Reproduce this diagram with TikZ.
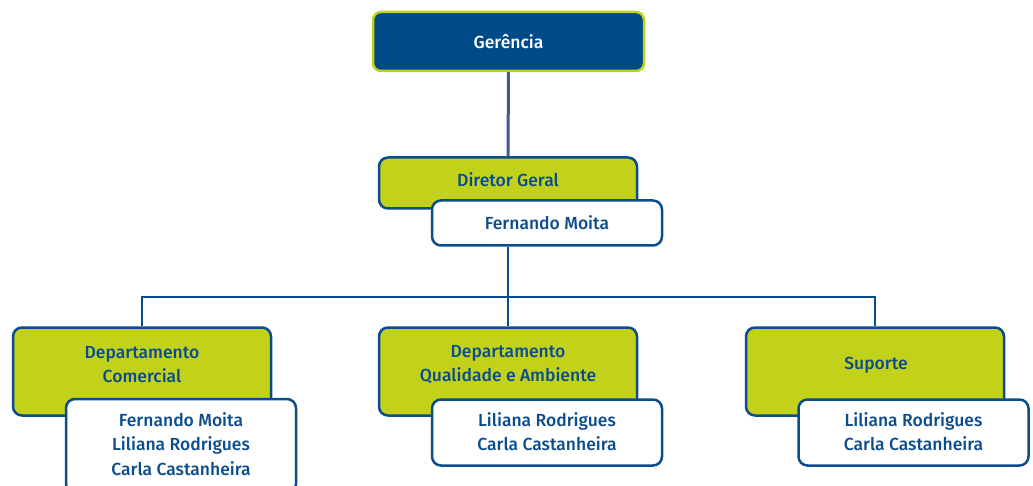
\documentclass[tikz,border=0pt]{standalone}
\usepackage{fontspec}
\setmainfont{Fira Sans}[UprightFont=* Medium]
\definecolor{navy}{HTML}{004B87}
\definecolor{lime}{HTML}{C2D21A}
\definecolor{edge}{HTML}{0B4C8C}
\definecolor{stem}{HTML}{3F5A9B}
\tikzset{
  head/.style={draw=lime, fill=navy, line width=2.5pt, rounded corners=8pt,
    text=white, minimum width=271pt, minimum height=59pt},
  unit/.style={draw=edge, fill=lime, line width=2.5pt, rounded corners=9pt,
    minimum width=258pt, inner sep=0pt},
  staff/.style={draw=edge, fill=white, line width=2.5pt, rounded corners=9pt,
    minimum width=230pt, inner sep=0pt},
  title/.style={text=edge, align=center, font=\fontsize{17.5}{24.5}\selectfont},
  link/.style={draw=edge, line width=2.5pt}
}

\begin{document}
\begin{tikzpicture}[x=1pt, y=-1pt]
\useasboundingbox (0,0) rectangle (1033,486);
% top
\node (ger) [head, font=\fontsize{17.5}{24}\selectfont] at (508.5,41.5) {Gerência};
\node (dir) [unit, minimum height=51pt] at (508,183) {};
\node (dirt) [title] at (508,179.5) {Diretor Geral};
\node (fm) [staff, minimum height=45pt] at (547,223) {};
\node (fmt) [title] at (547,222.5) {Fernando Moita};
\draw[draw=stem, line width=3pt] (ger) -- (dir);
% departments
\node (com) [unit, minimum height=88pt] at (142,371.5) {};
\node (comt) [title] at (142,364.5) {Departamento\\Comercial};
\node (comp) [staff, minimum height=94pt] at (181,446) {};
\node (compt) [title] at (181,444) {Fernando Moita\\Liliana Rodrigues\\Carla Castanheira};
\node (qua) [unit, minimum height=88pt] at (508,371.5) {};
\node (quat) [title] at (508,364.5) {Departamento\\Qualidade e Ambiente};
\node (quap) [staff, minimum height=66pt] at (547,432.5) {};
\node (quapt) [title] at (547,431.5) {Liliana Rodrigues\\Carla Castanheira};
\node (sup) [unit, minimum height=88pt] at (875,371.5) {};
\node (supt) [title] at (876,365.5) {Suporte};
\node (supp) [staff, minimum height=66pt] at (913.5,432.5) {};
\node (suppt) [title] at (913.5,431.5) {Liliana Rodrigues\\Carla Castanheira};
% connectors
\coordinate (bus) at (508,297);
\draw[link] (fm.south -| dir) -- (bus);
\draw[link] (com.north) |- (bus) -| (sup.north);
\draw[link] (bus) -- (qua.north);
\end{tikzpicture}
\end{document}
